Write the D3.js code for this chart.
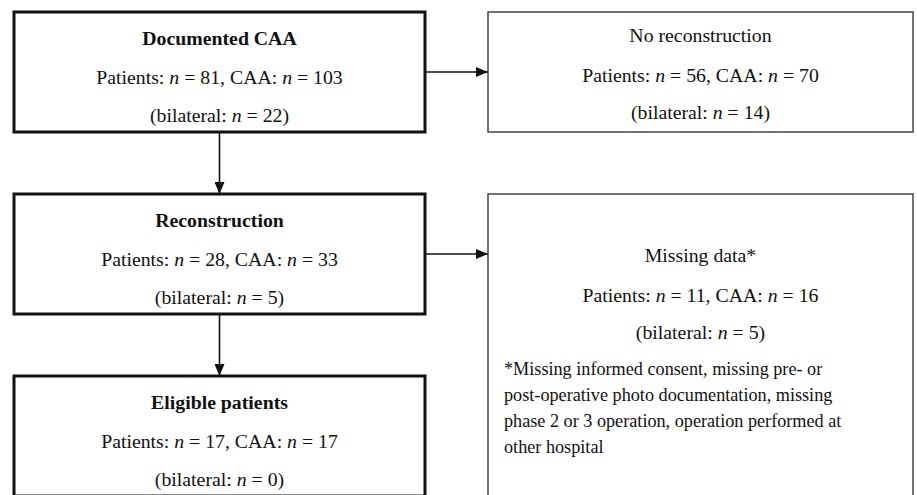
<!DOCTYPE html>
<meta charset="utf-8">
<style>
    body { margin: 0; background: #fff; }
    svg text {
        font-family: "Liberation Serif", "Times New Roman", serif;
        font-size: 19.8px;
        fill: #111;
    }
    svg text.note { font-size: 18.2px; }
    .title { font-weight: bold; }
    .main rect { fill: #fff; stroke: #111; stroke-width: 3; }
    .side rect { fill: #fff; stroke: #444; stroke-width: 1.5; }
    .link { stroke: #111; stroke-width: 1.6; fill: none; }
</style>
<svg class="flow"></svg>
<script src="https://cdn.jsdelivr.net/npm/d3@7"></script>
<script>
    // main column
    var mainTitles = ["Documented CAA", "Reconstruction", "Eligible patients"];
    var mainPatients = [81, 28, 17];
    var mainCaa = [103, 33, 17];
    var mainBilateral = [22, 5, 0];

    // side column (excluded)
    var sideTitles = ["No reconstruction", "Missing data*"];
    var sidePatients = [56, 11];
    var sideCaa = [70, 16];
    var sideBilateral = [14, 5];
    var footnote = [
        "*Missing informed consent, missing pre- or",
        "post-operative photo documentation, missing",
        "phase 2 or 3 operation, operation performed at",
        "other hospital"
    ];

    function drawFlow() {
        var width = 917,
            height = 495,
            mainW = 411,
            sideW = 425,
            boxH = 120;

        var svg = d3.select(".flow")
            .attr("width", width)
            .attr("height", height);

        var defs = svg.append("defs");
        defs.append("marker")
            .attr("id", "head")
            .attr("viewBox", "0 0 12 10")
            .attr("refX", 12)
            .attr("refY", 5)
            .attr("markerWidth", 12)
            .attr("markerHeight", 10)
            .attr("markerUnits", "userSpaceOnUse")
            .attr("orient", "auto")
            .append("path")
            .attr("d", "M0,0L12,5L0,10Z")
            .attr("fill", "#111");

        var col = d3.scaleLinear().domain([0, 1]).range([14, 488]);
        var row = d3.scaleLinear().domain([0, 2]).range([12, 376]);

        var main = mainTitles.map(function (t, i) {
            return { title: t, p: mainPatients[i], c: mainCaa[i], b: mainBilateral[i], i: i };
        });
        var side = sideTitles.map(function (t, i) {
            return { title: t, p: sidePatients[i], c: sideCaa[i], b: sideBilateral[i], i: i };
        });

        function nLine(sel, label1, v1, label2, v2) {
            sel.append("tspan").text(label1 + ": ");
            sel.append("tspan").style("font-style", "italic").text("n");
            sel.append("tspan").text(" = " + v1 + (label2 ? ", " + label2 + ": " : ""));
            if (label2) {
                sel.append("tspan").style("font-style", "italic").text("n");
                sel.append("tspan").text(" = " + v2);
            }
        }

        // links first, boxes on top
        main.forEach(function (d, i) {
            var cx = col(0) + mainW / 2;
            if (i < main.length - 1) {
                svg.append("line").attr("class", "link")
                    .attr("x1", cx).attr("y1", row(i) + boxH)
                    .attr("x2", cx).attr("y2", row(i + 1))
                    .attr("marker-end", "url(#head)");
            }
            if (i < side.length) {
                var y = row(i) + 60;
                svg.append("line").attr("class", "link")
                    .attr("x1", col(0) + mainW).attr("y1", y)
                    .attr("x2", col(1)).attr("y2", y)
                    .attr("marker-end", "url(#head)");
            }
        });

        var mg = svg.selectAll("g.main")
            .data(main)
            .enter().append("g")
            .attr("class", "main")
            .attr("transform", function (d) { return "translate(" + col(0) + "," + row(d.i) + ")"; });

        mg.append("rect")
            .attr("width", mainW)
            .attr("height", boxH);

        mg.append("text")
            .attr("class", "title")
            .attr("x", mainW / 2)
            .attr("y", 33)
            .attr("text-anchor", "middle")
            .text(function (d) { return d.title; });

        mg.append("text")
            .attr("x", mainW / 2)
            .attr("y", 72)
            .attr("text-anchor", "middle")
            .each(function (d) { nLine(d3.select(this), "Patients", d.p, "CAA", d.c); });

        mg.append("text")
            .attr("x", mainW / 2)
            .attr("y", 110)
            .attr("text-anchor", "middle")
            .each(function (d) {
                var t = d3.select(this);
                t.append("tspan").text("(");
                nLine(t, "bilateral", d.b + ")");
            });

        var sg = svg.selectAll("g.side")
            .data(side)
            .enter().append("g")
            .attr("class", "side")
            .attr("transform", function (d) { return "translate(" + col(1) + "," + row(d.i) + ")"; });

        sg.append("rect")
            .attr("width", sideW)
            .attr("height", function (d) { return d.i === 0 ? boxH : 320; });

        var off = [0, 38];
        sg.append("text")
            .attr("x", sideW / 2)
            .attr("y", function (d) { return 30 + off[d.i]; })
            .attr("text-anchor", "middle")
            .text(function (d) { return d.title; });

        sg.append("text")
            .attr("x", sideW / 2)
            .attr("y", function (d) { return 70 + off[d.i]; })
            .attr("text-anchor", "middle")
            .each(function (d) { nLine(d3.select(this), "Patients", d.p, "CAA", d.c); });

        sg.append("text")
            .attr("x", sideW / 2)
            .attr("y", function (d) { return 107 + off[d.i]; })
            .attr("text-anchor", "middle")
            .each(function (d) {
                var t = d3.select(this);
                t.append("tspan").text("(");
                nLine(t, "bilateral", d.b + ")");
            });

        sg.filter(function (d) { return d.i === 1; })
            .selectAll("text.note")
            .data(footnote)
            .enter().append("text")
            .attr("class", "note")
            .attr("x", 16)
            .attr("y", function (d, i) { return 181 + i * 26; })
            .text(function (d) { return d; });
    }

    drawFlow();
</script>
